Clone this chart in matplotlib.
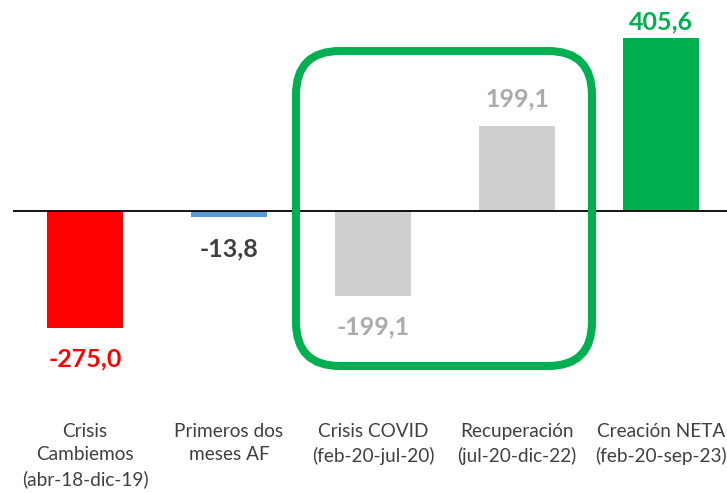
import matplotlib
matplotlib.use("Agg")
import matplotlib.pyplot as plt
from matplotlib.patches import FancyBboxPatch
from matplotlib.transforms import blended_transform_factory

plt.rcParams['font.family'] = ['Lato', 'DejaVu Sans']

categories = ["Crisis\nCambiemos\n(abr-18-dic-19)", "Primeros dos\nmeses AF",
              "Crisis COVID\n(feb-20-jul-20)", "Recuperación\n(jul-20-dic-22)",
              "Creación NETA\n(feb-20-sep-23)"]
values = [-275.0, -13.8, -199.1, 199.1, 405.6]
value_labels = ["-275,0", "-13,8", "-199,1", "199,1", "405,6"]

bar_colors = ["#FF0000", "#5B9BD5", "#D0CECE", "#D0CECE", "#00B050"]
label_colors = ["#FF0000", "#404040", "#AEAAAA", "#AEAAAA", "#00B050"]
label_offsets_px = [-31, -32, -31, 27, 16]

W, H, DPI = 727, 493, 100
fig = plt.figure(figsize=(W / DPI, H / DPI), dpi=DPI)
ax = fig.add_axes([13 / W, 0, 720 / W, 1])
ax.set_xlim(-0.5, 4.5)
ppu = 0.4255  # pixels per unit
ax.set_ylim(-(H - 211) / ppu, 211 / ppu)
ax.axis('off')

x = list(range(len(values)))
ax.bar(x, values, width=0.53, color=bar_colors, zorder=2)
ax.axhline(0, color='black', lw=1.3, zorder=3)

for xi, v, lab, c, off in zip(x, values, value_labels, label_colors, label_offsets_px):
    ax.annotate(lab, (xi, v), xytext=(0, off * 72 / DPI), textcoords='offset points',
                ha='center', va='center', fontsize=18, fontweight='bold', color=c)

trans = blended_transform_factory(ax.transData, fig.transFigure)
for xi, cat in zip(x, categories):
    ax.text(xi, 1 - 423 / H, cat, transform=trans, ha='center', va='top',
            fontsize=13.7, color='#404040', linespacing=1.45)

# rounded highlight box (in inches)
left, right, top, bottom = 296 / DPI, 592 / DPI, (H - 51) / DPI, (H - 366) / DPI
box = FancyBboxPatch((left, bottom), right - left, top - bottom,
                     boxstyle="round,pad=0,rounding_size=0.44",
                     transform=fig.dpi_scale_trans, fill=False,
                     edgecolor='#00B050', lw=5.8, zorder=4)
fig.patches.append(box)

fig.savefig("out.png", dpi=DPI)
